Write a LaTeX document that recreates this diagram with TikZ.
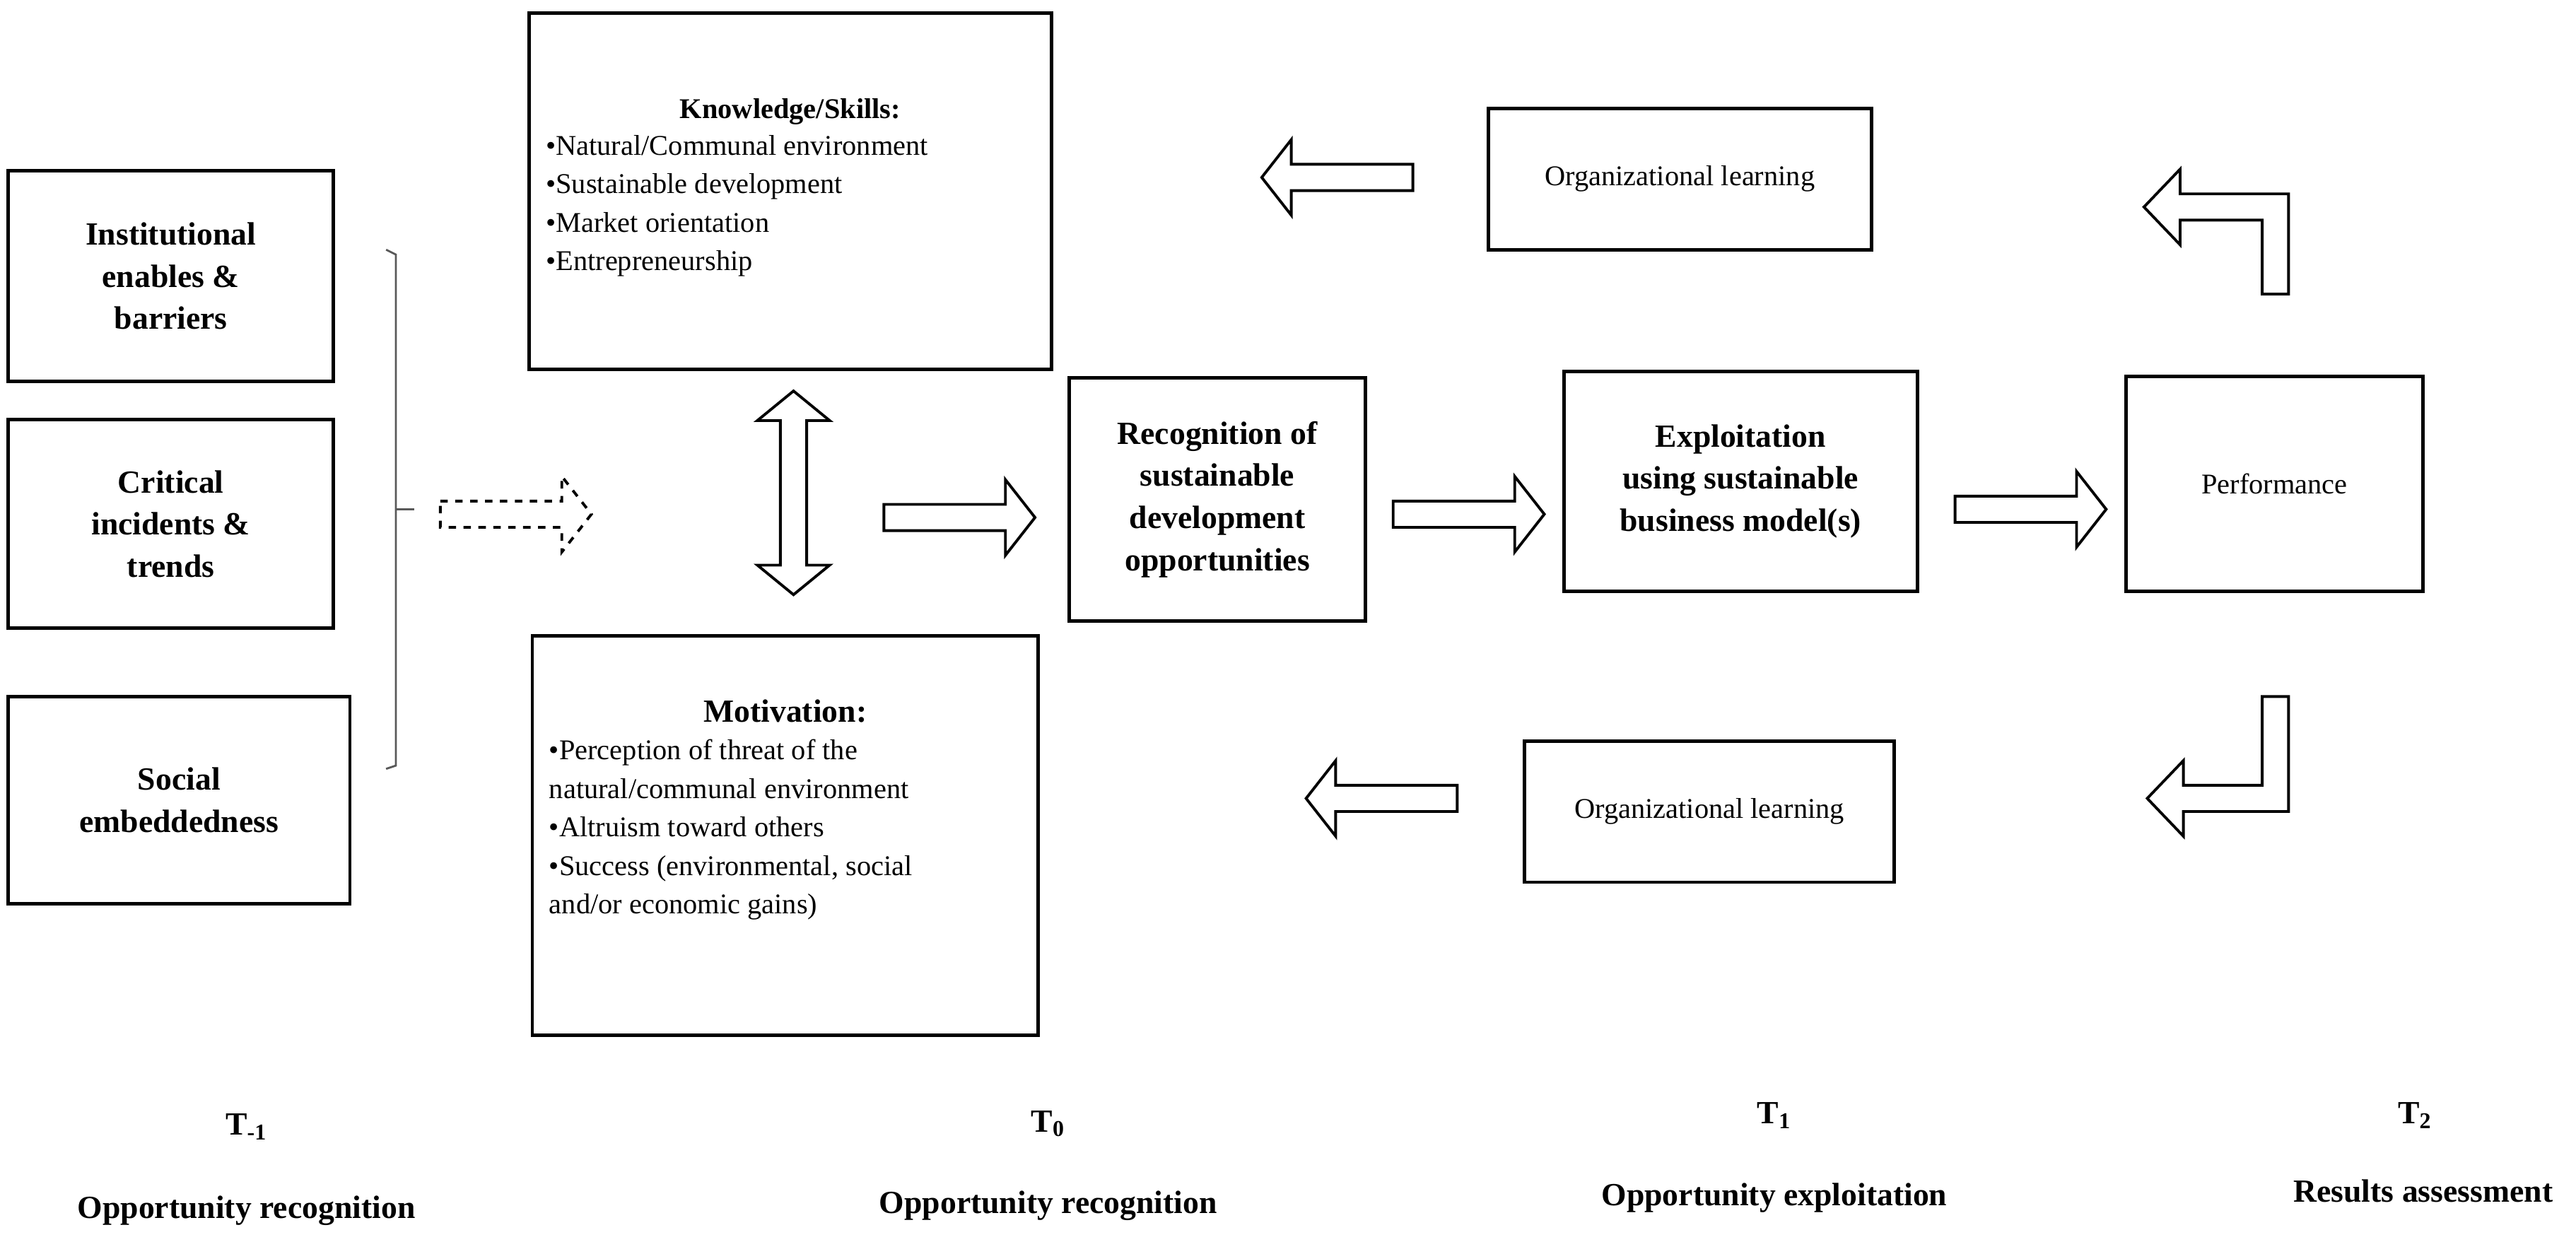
\documentclass[tikz,border=0pt]{standalone}
\usepackage{fontspec}
\setmainfont{Liberation Serif}
\def\upx{0.2324mm}
\newcommand{\bodyfont}{\fontsize{11.5}{15.5}\selectfont}
\newcommand{\headfont}{\fontsize{13}{17}\selectfont\bfseries}

\tikzset{
  barrow/.pic = {\draw[line width=1.1pt, line join=miter] (0,-8) -- (74,-8) -- (74,-23) -- (92,0) -- (74,23) -- (74,8) -- (0,8) -- cycle;},
  dbarrow/.pic = {\draw[line width=1.1pt, line join=miter] (-44,-8) -- (44,-8) -- (44,-22) -- (62,0) -- (44,22) -- (44,8) -- (-44,8) -- (-44,22) -- (-62,0) -- (-44,-22) -- cycle;}
}

\begin{document}
\begin{tikzpicture}[x=\upx, y=-\upx,
  box/.style = {draw, line width=1.4pt, align=center, inner sep=0pt},
  head/.style = {align=center, font=\headfont},
  body/.style = {align=left, font=\bodyfont, inner sep=0pt},
  phase/.style = {font=\headfont}]
	\useasboundingbox (0,0) rectangle (1568,756);

	% drivers
	\node[box, head, minimum width=198*\upx, minimum height=128*\upx] (inst) at (104,168) {Institutional\\enables \&\\barriers};
	\node[box, head, minimum width=198*\upx, minimum height=127*\upx] (crit) at (104,319) {Critical\\incidents \&\\trends};
	\node[box, head, minimum width=208*\upx, minimum height=126*\upx] (social) at (109,487) {Social\\embeddedness};
	\draw[gray!70!black, line width=0.8pt] (235,152) -- (241,155) -- (241,466) -- (235,468);
	\coordinate (brace) at (241,310);
	\coordinate (bracetip) at (252,310);
	\draw[gray!70!black, line width=0.8pt] (brace) -- (bracetip);
	\pic[dashed] at (268,313) {barrow};

	% knowledge and motivation
	\node[box, minimum width=318*\upx, minimum height=217*\upx] (know) at (481,116.5) {};
	\node[head, font=\bodyfont\bfseries] (knowtitle) at (481,68) {Knowledge/Skills:};
	\node[body, anchor=north west] (knowlist) at (332,82) {\textbullet Natural/Communal environment\\\textbullet Sustainable development\\\textbullet Market orientation\\\textbullet Entrepreneurship};
	\node[box, minimum width=308*\upx, minimum height=243*\upx] (motiv) at (478,508.5) {};
	\node[head] (motivtitle) at (478,433) {Motivation:};
	\node[body, anchor=north west] (motivlist) at (334,450) {\textbullet Perception of threat of the\\natural/communal environment\\\textbullet Altruism toward others\\\textbullet Success (environmental, social\\and/or economic gains)};
	\pic[rotate=90] at (483,300) {dbarrow};

	% process
	\node[box, head, minimum width=180*\upx, minimum height=148*\upx] (recog) at (741,304) {Recognition of\\sustainable\\development\\opportunities};
	\node[box, head, minimum width=215*\upx, minimum height=134*\upx] (explo) at (1059.5,293) {Exploitation\\using sustainable\\business model(s)};
	\node[box, font=\bodyfont, minimum width=181*\upx, minimum height=131*\upx] (perf) at (1384.5,294.5) {Performance};
	\pic at (538,315) {barrow};
	\pic at (848,313) {barrow};
	\pic at (1190,310) {barrow};

	% feedback
	\node[box, font=\bodyfont, minimum width=233*\upx, minimum height=86*\upx] (orgtop) at (1022.5,109) {Organizational learning};
	\node[box, font=\bodyfont, minimum width=225*\upx, minimum height=86*\upx] (orgbot) at (1040.5,494) {Organizational learning};
	\pic[rotate=180] at (860,108) {barrow};
	\pic[rotate=180] at (887,486) {barrow};
	\draw[line width=1.1pt, line join=miter] (1377,179) -- (1377,134) -- (1327,134) -- (1327,149) -- (1305,126) -- (1327,103) -- (1327,118) -- (1393,118) -- (1393,179) -- cycle;
	\draw[line width=1.1pt, line join=miter] (1377,424) -- (1377,478) -- (1329,478) -- (1329,463) -- (1307,486) -- (1329,509) -- (1329,494) -- (1393,494) -- (1393,424) -- cycle;

	% phases
	\node[phase] (tm1) at (150,686) {T\textsubscript{-1}};
	\node[phase] (pm1) at (150,737) {Opportunity recognition};
	\node[phase] (t0) at (638,684) {T\textsubscript{0}};
	\node[phase] (p0) at (638,734) {Opportunity recognition};
	\node[phase] (t1) at (1080,679) {T\textsubscript{1}};
	\node[phase] (p1) at (1080,729) {Opportunity exploitation};
	\node[phase] (t2) at (1470,679) {T\textsubscript{2}};
	\node[phase] (p2) at (1475,725) {Results assessment};
\end{tikzpicture}
\end{document}
